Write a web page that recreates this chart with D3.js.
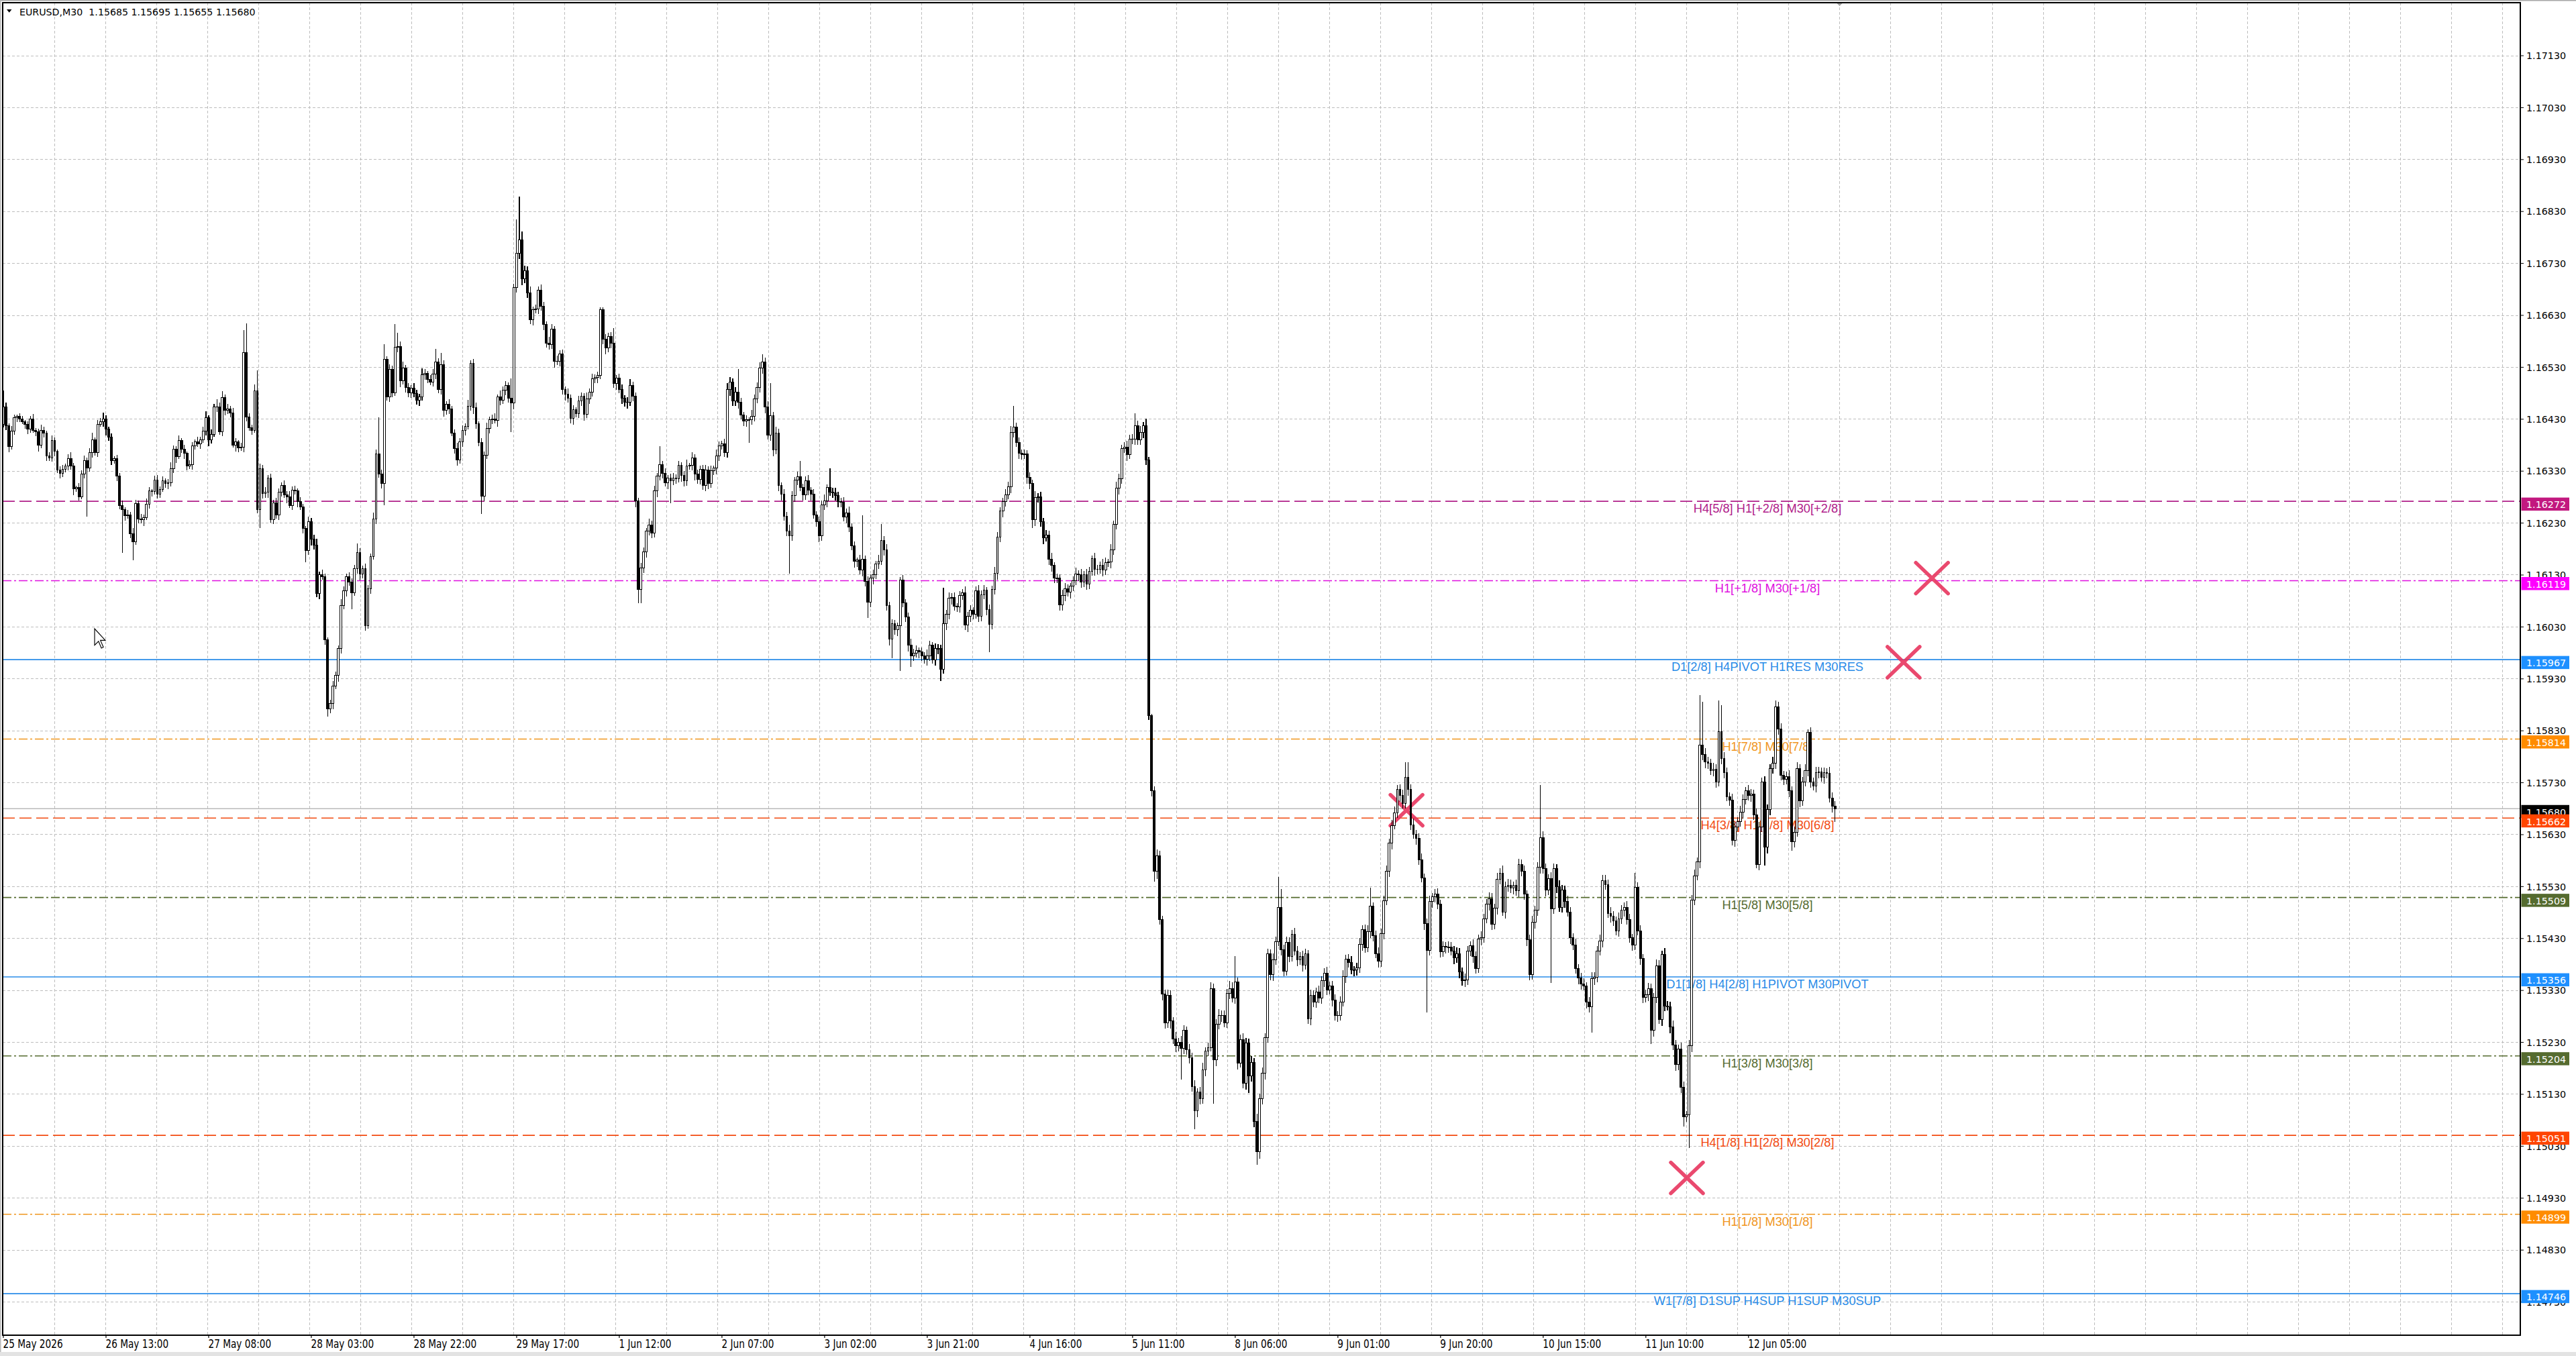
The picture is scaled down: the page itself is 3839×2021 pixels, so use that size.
<!DOCTYPE html>
<html><head><meta charset="utf-8">
<script src="https://cdn.jsdelivr.net/npm/d3@7"></script>
<style>html,body{margin:0;padding:0;background:#fff;overflow:hidden}</style>
</head><body>
<svg id="c" width="3839" height="2021"></svg>
<script>
// ---------------- DATA ----------------
const symbolTitle = "EURUSD,M30  1.15685 1.15695 1.15655 1.15680";
const BASE = 1.15;          // closes / wicks are in points (1e-5) above BASE
const firstOpen = 1420;
const closes = [
1454,1417,1377,1407,1433,1435,1431,1425,1420,1411,
1431,1409,1406,1380,1408,1403,1359,1355,1389,1368,
1332,1326,1333,1340,1354,1340,1296,1298,1281,1325,
1350,1336,1366,1390,1366,1420,1425,1431,1411,1395,
1350,1354,1321,1264,1256,1244,1246,1209,1194,1267,
1238,1236,1241,1266,1292,1291,1313,1286,1295,1311,
1306,1307,1335,1372,1358,1389,1372,1364,1340,1343,
1379,1386,1382,1390,1407,1433,1390,1401,1453,1454,
1406,1472,1447,1450,1442,1380,1386,1375,1376,1558,
1434,1414,1409,1485,1256,1335,1287,1290,1317,1237,
1269,1246,1289,1303,1285,1280,1264,1294,1292,1271,
1261,1220,1177,1233,1199,1188,1094,1131,1127,1005,
872,882,916,937,988,1071,1099,1127,1117,1096,
1142,1173,1132,1142,1033,1103,1166,1238,1363,1325,
1306,1545,1473,1526,1481,1568,1570,1504,1529,1491,
1481,1490,1479,1467,1473,1516,1518,1507,1502,1517,
1540,1487,1535,1447,1459,1450,1403,1373,1352,1386,
1409,1416,1455,1538,1452,1421,1385,1282,1361,1412,
1429,1431,1428,1473,1466,1486,1495,1470,1461,1683,
1749,1776,1700,1716,1673,1622,1641,1642,1679,1648,
1613,1577,1574,1604,1541,1542,1556,1487,1478,1470,
1432,1448,1441,1465,1474,1439,1469,1482,1508,1510,
1514,1641,1584,1567,1589,1577,1499,1509,1487,1470,
1463,1463,1495,1474,1273,1102,1143,1174,1214,1226,
1211,1292,1320,1343,1326,1308,1317,1312,1317,1316,
1341,1322,1311,1340,1341,1356,1324,1314,1334,1303,
1332,1306,1331,1336,1359,1379,1382,1366,1487,1502,
1465,1482,1463,1438,1427,1429,1429,1436,1469,1491,
1528,1540,1454,1399,1437,1371,1403,1302,1286,1243,
1215,1205,1283,1313,1319,1299,1285,1311,1293,1286,
1246,1233,1205,1265,1273,1299,1290,1288,1283,1272,
1270,1242,1250,1223,1186,1156,1159,1140,1160,1118,
1078,1124,1131,1151,1157,1197,1179,1071,1006,1036,
1025,1032,1120,1077,1049,995,974,980,984,982,
974,968,974,995,967,988,988,949,1036,1055,
1085,1087,1070,1069,1090,1096,1034,1051,1062,1055,
1099,1051,1092,1101,1064,1035,1102,1133,1203,1253,
1272,1285,1300,1405,1415,1385,1365,1362,1363,1318,
1306,1236,1279,1281,1233,1202,1207,1160,1149,1124,
1124,1073,1090,1104,1097,1109,1119,1132,1131,1116,
1130,1113,1137,1162,1141,1141,1149,1140,1154,1155,
1179,1227,1297,1316,1373,1376,1362,1392,1392,1417,
1390,1405,1417,1352,859,715,559,589,467,323,
268,320,271,236,223,230,219,253,216,201,
145,98,134,121,177,213,220,334,196,265,
282,282,268,325,334,315,346,190,235,151,
229,165,191,78,20,121,170,239,400,360,
389,424,490,409,367,422,396,438,406,389,
395,379,400,275,320,308,327,315,349,363,
331,338,311,282,282,308,357,390,384,369,
369,373,419,447,412,443,492,435,401,386,
440,503,559,614,648,672,717,705,690,740,
717,649,631,623,582,546,459,407,501,510,
515,496,405,415,413,413,406,393,401,366,
349,350,406,416,395,372,429,432,468,496,
507,457,488,544,556,481,530,533,527,532,
522,573,559,515,428,360,461,484,567,624,
565,523,545,487,565,530,490,523,501,481,
432,418,372,354,342,338,307,298,353,356,
406,425,542,534,478,473,464,445,468,484,
490,467,431,418,528,444,391,316,322,333,
253,316,378,274,399,300,299,260,225,187,
217,144,87,90,223,504,551,577,803,784,
770,767,754,756,731,828,777,749,703,697,
619,645,655,673,698,714,705,708,668,573,
645,731,606,678,757,768,876,833,744,737,
742,714,616,635,757,695,731,754,827,731,
724,749,751,740,749,748,701,685,680
];
const upperWicks = [
31,8,5,10,6,4,7,5,3,6,
5,9,4,6,12,7,5,8,10,6,
4,7,9,5,8,12,6,4,9,7,
10,6,8,14,5,9,7,12,6,4,
8,5,7,6,10,4,9,6,12,8,
6,9,5,11,7,4,8,10,6,9,
5,8,12,7,6,10,5,9,4,8,
7,5,10,6,8,12,4,9,6,15,
8,12,6,9,5,10,7,4,8,43,
56,8,6,12,39,10,7,9,5,8,
6,10,8,5,9,7,12,6,8,5,
9,6,4,10,7,8,12,5,9,6,
5,8,10,7,6,12,9,5,8,6,
7,18,9,6,10,8,5,12,9,70,
8,30,6,10,7,45,26,9,12,6,
8,5,10,7,6,12,9,5,8,10,
25,7,23,9,6,10,5,8,12,7,
9,6,12,6,8,10,5,9,7,11,
6,8,10,5,12,7,9,6,39,8,
66,83,16,10,8,12,6,9,7,10,
8,6,12,9,5,10,7,8,6,11,
7,9,5,10,8,6,12,7,9,6,
8,5,5,10,7,9,28,6,8,10,
6,9,12,7,8,5,10,9,6,12,
8,10,7,35,6,9,5,8,10,7,
9,6,8,12,5,10,7,9,6,8,
10,7,9,5,12,8,6,10,12,9,
7,10,44,8,6,9,5,12,8,10,
12,15,8,10,63,7,12,9,6,10,
8,12,9,6,10,31,7,9,12,6,
9,7,10,8,12,6,37,8,10,7,
6,10,8,12,7,9,5,10,85,8,
10,7,9,6,12,31,8,10,7,9,
8,6,6,10,7,9,12,8,10,6,
9,7,12,8,6,10,9,7,70,8,
12,8,10,6,9,7,12,8,10,6,
9,12,8,10,6,9,7,12,10,8,
7,10,9,12,40,8,10,6,9,7,
10,8,12,6,9,7,10,8,12,6,
9,7,12,10,8,6,9,12,7,10,
8,12,9,6,10,8,7,12,9,6,
10,8,12,9,7,10,12,8,9,25,
10,12,8,14,6,4,8,12,10,7,
9,12,10,8,14,9,12,10,8,11,
9,12,8,10,14,7,10,12,9,10,
12,9,10,8,14,12,50,9,10,12,
10,8,12,9,14,10,12,8,10,9,
12,10,58,35,9,12,10,8,12,10,
9,12,10,8,12,10,9,12,8,10,
12,9,10,12,8,10,12,9,10,12,
8,10,12,9,10,12,36,8,10,12,
9,10,12,8,10,12,9,10,12,30,
30,10,12,8,10,12,9,10,12,8,
10,12,9,10,8,12,10,9,12,10,
8,12,10,9,12,10,8,12,9,10,
12,10,9,12,10,14,9,12,10,8,
12,10,9,12,8,10,12,9,10,101,
12,10,9,12,10,8,12,10,9,12,
10,8,12,9,10,12,8,10,12,9,
10,12,11,10,9,12,10,8,12,10,
9,12,10,8,28,10,12,9,10,12,
10,9,12,10,8,12,10,9,12,10,
9,12,10,8,12,10,12,9,96,83,
12,10,9,12,10,61,51,12,10,9,
12,10,9,12,10,8,12,10,9,12,
10,9,12,10,8,12,13,10,12,9,
10,12,9,10,12,8,10,12,6,10,
9,12,10,8,10,9,12,10,10
];
const lowerWicks = [
6,8,10,5,7,9,6,4,8,10,
7,5,9,12,6,8,10,5,7,9,
6,10,8,5,9,7,12,6,8,5,
9,94,7,10,6,8,5,9,12,7,
8,6,10,7,83,9,5,8,35,6,
9,7,12,5,8,10,6,9,7,5,
8,10,6,9,12,5,7,10,8,6,
10,7,5,9,6,8,12,7,5,9,
6,9,10,7,8,5,12,9,6,10,
8,6,9,5,7,36,10,8,12,6,
9,7,10,8,6,12,5,9,7,10,
6,10,22,8,12,9,7,10,6,9,
15,8,10,6,12,9,7,10,8,32,
6,9,12,8,10,7,9,6,10,8,
9,41,7,10,8,6,9,12,7,10,
8,10,6,9,12,7,10,8,6,9,
10,7,9,12,8,10,6,9,12,7,
9,10,6,8,12,9,7,35,10,8,
10,8,6,12,9,7,10,8,56,12,
9,10,12,8,10,9,12,7,10,9,
12,9,10,8,12,7,10,9,12,8,
10,12,8,9,10,12,7,10,8,9,
10,7,9,12,8,10,9,12,7,10,
9,12,8,10,12,26,26,9,10,8,
10,9,12,8,10,7,12,44,9,10,
8,12,10,9,7,10,12,8,10,9,
12,10,8,9,12,10,7,9,10,12,
10,9,12,8,10,12,44,9,10,8,
9,10,12,8,10,12,9,10,12,8,
10,73,9,12,10,8,12,10,9,12,
8,10,12,9,10,12,8,10,9,12,
10,9,12,10,8,12,10,9,12,10,
31,10,12,9,10,8,12,10,12,36,
10,12,87,9,10,12,21,10,9,12,
10,9,12,10,8,12,10,23,9,12,
10,12,9,10,12,8,10,14,12,10,
9,12,10,8,12,53,10,9,12,10,
12,10,9,12,10,8,12,10,9,12,
10,15,12,9,10,12,8,10,12,9,
10,11,12,10,9,12,10,8,12,10,
9,12,10,8,12,10,9,12,10,8,
12,10,9,12,10,8,12,9,10,12,
10,9,12,10,8,12,20,14,10,12,
12,10,14,9,12,10,61,12,10,12,
10,35,12,10,9,12,10,8,84,12,
10,12,9,10,12,8,10,12,9,10,
12,33,10,12,26,14,10,12,9,10,
12,10,9,12,10,8,12,10,9,12,
10,12,9,10,12,10,12,9,10,12,
10,9,12,10,12,10,9,12,10,8,
12,10,9,12,10,8,12,10,9,12,
10,12,9,10,12,8,10,12,9,10,
12,10,9,12,10,8,12,120,10,12,
10,9,12,10,12,10,9,12,10,12,
10,12,9,10,12,10,8,12,10,9,
12,10,9,12,10,8,12,10,9,12,
10,12,9,10,12,10,9,12,10,12,
10,12,9,143,10,12,9,10,12,9,
12,10,9,12,10,8,12,10,49,12,
10,9,12,10,8,12,10,9,12,10,
12,10,9,12,10,8,12,10,9,12,
26,12,10,9,12,10,8,12,10,12,
10,12,19,10,63,12,10,9,12,10,
12,10,9,12,10,8,12,10,9,12,
10,12,9,10,12,10,9,12,10,8,
12,10,35,12,10,9,12,10,9,12,
10,12,17,10,9,12,10,8,12,10,
9,12,10,8,12,10,9,12,25
];

const xTickLabels = ["25 May 2026","26 May 13:00","27 May 08:00","28 May 03:00","28 May 22:00","29 May 17:00","1 Jun 12:00","2 Jun 07:00","3 Jun 02:00","3 Jun 21:00","4 Jun 16:00","5 Jun 11:00","8 Jun 06:00","9 Jun 01:00","9 Jun 20:00","10 Jun 15:00","11 Jun 10:00","12 Jun 05:00"];
const xTickBars = [0,38,76,114,152,190,228,266,304,342,380,418,456,494,532,570,608,646];
const yTickLabels = ["1.17130","1.17030","1.16930","1.16830","1.16730","1.16630","1.16530","1.16430","1.16330","1.16230","1.16130","1.16030","1.15930","1.15830","1.15730","1.15630","1.15530","1.15430","1.15330","1.15230","1.15130","1.15030","1.14930","1.14830","1.14730"];

const levelPrices = [1.16272,1.16119,1.15967,1.15814,1.15662,1.15509,1.15356,1.15204,1.15051,1.14899,1.14746];
const levelNames = ["H4[5/8] H1[+2/8] M30[+2/8]","H1[+1/8] M30[+1/8]","D1[2/8] H4PIVOT H1RES M30RES","H1[7/8] M30[7/8]","H4[3/8] H1[6/8] M30[6/8]","H1[5/8] M30[5/8]","D1[1/8] H4[2/8] H1PIVOT M30PIVOT","H1[3/8] M30[3/8]","H4[1/8] H1[2/8] M30[2/8]","H1[1/8] M30[1/8]","W1[7/8] D1SUP H4SUP H1SUP M30SUP"];
const levelColors = ["#B0208A","#E010E0","#2A8CE8","#F0961E","#F24A10","#556B2F","#2A8CE8","#556B2F","#F24A10","#F0961E","#2A8CE8"];
const boxColors = ["#C2187F","#FF00FF","#1E90FF","#FF8C00","#FF4500","#556B2F","#1E90FF","#556B2F","#FF4500","#FF8C00","#1E90FF"];
const levelStyles = ["dash","dashdot","solid","dashdot","dash","dashdot","solid","dashdot","dash","dashdot","solid"];
const currentPrice = 1.15680;

const crossBars = [713.9, 703.4, 519.4, 623.2];
const crossPrices = [1.16124, 1.15962, 1.15677, 1.14969];

// ---------------- LAYOUT ----------------
const svg = d3.select("#c");
const P = {l:4, t:4, r:3756, b:1990};
const barStep = 4.026;
const x = d3.scaleLinear().domain([0, 931]).range([5, 5 + 931*barStep]);
const y = d3.scaleLinear().domain([1.146661, 1.172321]).range([P.b, P.t]);
const gridX = d3.scaleLinear().domain([0, 1]).range([5.5, 81.5]);
const pt = v => BASE + v / 1e5;

svg.append("rect").attr("width",3839).attr("height",2021).attr("fill","#fff");
svg.append("rect").attr("x",0).attr("y",2015).attr("width",3839).attr("height",6).attr("fill","#E3E3E3");
svg.append("line").attr("x1",0).attr("x2",3839).attr("y1",0.8).attr("y2",0.8).attr("stroke","#A8A8A8").attr("stroke-width",1.5);
svg.append("line").attr("x1",0.8).attr("x2",0.8).attr("y1",0).attr("y2",2015).attr("stroke","#B8B8B8").attr("stroke-width",1.5);

// grid
const gGrid = svg.append("g").attr("stroke","#BDBDBD").attr("stroke-width",1).attr("shape-rendering","crispEdges");
gGrid.selectAll("line.h").data(yTickLabels).join("line")
  .attr("x1",P.l).attr("x2",P.r).attr("y1",d=>y(+d)).attr("y2",d=>y(+d))
  .attr("stroke-dasharray","4,3");
gGrid.selectAll("line.v").data(d3.range(1,50)).join("line")
  .attr("x1",d=>gridX(d)).attr("x2",d=>gridX(d)).attr("y1",P.t).attr("y2",P.b)
  .attr("stroke-dasharray","4,3");

// level lines
const dashes = {dash:"18,7", dashdot:"13,4,3,4", solid:null};
const gLev = svg.append("g");
levelPrices.forEach((p,k)=>{
  gLev.append("line").attr("x1",P.l).attr("x2",P.r).attr("y1",y(p)).attr("y2",y(p))
    .attr("stroke",levelColors[k]).attr("stroke-width",1.6)
    .attr("stroke-dasharray",dashes[levelStyles[k]]);
});
svg.append("line").attr("x1",P.l).attr("x2",P.r).attr("y1",y(currentPrice)).attr("y2",y(currentPrice))
  .attr("stroke","#BBBBBB").attr("stroke-width",1.5);

// level labels
const labelX = x(653);
svg.append("g").selectAll("text").data(levelPrices).join("text")
  .attr("x",labelX).attr("y",d=>y(d)+17).attr("text-anchor","middle")
  .attr("font-family","'Liberation Sans',Arial,sans-serif").attr("font-size",18.3)
  .attr("fill",(d,k)=>levelColors[k]).text((d,k)=>levelNames[k]);

// crosses
const gX = svg.append("g").attr("stroke","#E8365F").attr("stroke-width",5.5).attr("stroke-linecap","round").attr("opacity",0.9);
crossBars.forEach((b,k)=>{
  const cx = x(b), cy = y(crossPrices[k]);
  gX.append("line").attr("x1",cx-24).attr("y1",cy-23).attr("x2",cx+24).attr("y2",cy+23);
  gX.append("line").attr("x1",cx-24).attr("y1",cy+23).attr("x2",cx+24).attr("y2",cy-23);
});

// candles
const bars = closes.map((c,i)=>{
  const o = i ? closes[i-1] : firstOpen;
  const uw = upperWicks[i] ?? 8, lw = lowerWicks[i] ?? 8;
  return {i, o:pt(o), c:pt(c), h:pt(Math.max(o,c)+uw), l:pt(Math.min(o,c)-lw)};
});
const gC = svg.append("g").attr("shape-rendering","crispEdges");
gC.selectAll("line").data(bars).join("line")
  .attr("x1",d=>x(d.i)).attr("x2",d=>x(d.i)).attr("y1",d=>y(d.h)).attr("y2",d=>y(d.l))
  .attr("stroke","#000").attr("stroke-width",1.1);
gC.selectAll("rect").data(bars).join("rect")
  .attr("x",d=>x(d.i)-1.4).attr("width",2.8)
  .attr("y",d=>y(Math.max(d.o,d.c)))
  .attr("height",d=>Math.max(0.5, Math.abs(y(d.o)-y(d.c))))
  .attr("fill",d=>d.c>=d.o ? "#fff" : "#000")
  .attr("stroke","#000").attr("stroke-width",1);

// mouse cursor
svg.append("path").attr("d","M0,0 L0,17 L4,13 L7,20 L9,19 L6,12 L11,12 Z")
  .attr("transform","translate(141,937) scale(1.45)")
  .attr("fill","#fff").attr("stroke","#000").attr("stroke-width",0.8);

// chart shift marker
svg.append("path").attr("d",`M${gridX(36)-6},3 L${gridX(36)+6},3 L${gridX(36)},9 Z`).attr("fill","#A0A0A0");

// plot frame
svg.append("rect").attr("x",P.l).attr("y",P.t).attr("width",P.r-P.l).attr("height",P.b-P.t)
  .attr("fill","none").attr("stroke","#000").attr("stroke-width",1.3).attr("shape-rendering","crispEdges");

// title
svg.append("path").attr("d","M10,14 L17.5,14 L13.75,18.8 Z").attr("fill","#000");
svg.append("text").attr("x",29).attr("y",22.5).attr("font-family","'DejaVu Sans',sans-serif")
  .attr("font-size",14.2).attr("fill","#000").style("white-space","pre").text(symbolTitle);

// y axis
const gY = svg.append("g");
gY.selectAll("line").data(yTickLabels).join("line")
  .attr("x1",P.r).attr("x2",P.r+5).attr("y1",d=>y(+d)).attr("y2",d=>y(+d)).attr("stroke","#000").attr("stroke-width",1);
gY.selectAll("text").data(yTickLabels).join("text")
  .attr("x",3765).attr("y",d=>y(+d)+5.2).attr("font-family","'DejaVu Sans',sans-serif")
  .attr("font-size",14.3).attr("fill","#000").text(d=>d);

// x axis
const gXa = svg.append("g");
gXa.selectAll("line").data(xTickBars).join("line")
  .attr("x1",d=>x(d)).attr("x2",d=>x(d)).attr("y1",P.b).attr("y2",P.b+4).attr("stroke","#000").attr("stroke-width",1.2);
gXa.selectAll("text").data(xTickBars).join("text")
  .attr("transform",(d)=>`translate(${x(d)-0.5},2008.5) scale(1,1.12)`)
  .attr("font-family","'DejaVu Sans Condensed','DejaVu Sans',sans-serif").attr("font-size",15.2)
  .attr("fill","#000").text((d,k)=>xTickLabels[k]);

// price boxes
function priceBox(p, col){
  const yy = y(p);
  svg.append("rect").attr("x",3757.5).attr("y",yy-5.5).attr("width",71.5).attr("height",19.5).attr("fill",col);
  svg.append("text").attr("x",3765).attr("y",yy+10.3).attr("font-family","'DejaVu Sans',sans-serif")
    .attr("font-size",14.3).attr("fill","#fff").text(p.toFixed(5));
}
priceBox(currentPrice, "#000");
levelPrices.forEach((p,k)=>priceBox(p, boxColors[k]));
</script>
</body></html>
